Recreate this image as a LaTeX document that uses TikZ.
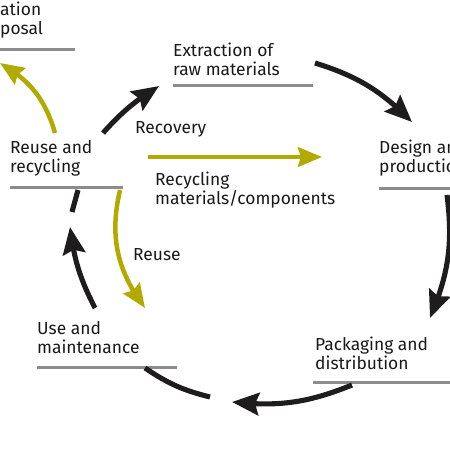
\documentclass[tikz,border=0pt]{standalone}
\usepackage{fontspec}
\setmainfont{Fira Sans}
\usepackage{tikz}
\usetikzlibrary{arrows.meta}
\usetikzlibrary{positioning}
\usetikzlibrary{bending}
\definecolor{mossy}{RGB}{178,170,0}
\definecolor{inkblack}{RGB}{30,28,28}
\definecolor{rulegray}{RGB}{140,140,140}
\tikzset{>={Stealth[length=9mm, width=7.5mm, inset=1.3mm]}}
\tikzset{
    stage/.style={anchor=south west, align=left, inner sep=0pt, text depth=0pt, text=black!90,
        font=\fontsize{16.5}{18.5}\selectfont},
    rule/.style={draw=rulegray, line width=1mm},
    loopline/.style={->, draw=inkblack, line width=1.7mm},
    looptail/.style={draw=inkblack, line width=1.7mm},
    backline/.style={-{Stealth[length=8mm, width=6.5mm, inset=1mm]}, draw=mossy, line width=1.5mm},
}

\begin{document}
\begin{tikzpicture}[x=0.3333mm, y=-0.3333mm] % life cycle of a product
	\path[use as bounding box, clip] (0,0) rectangle (450,450);
	\node[stage] (disp) at (0,35) {ation\\posal};
	\node[stage] (ext) at (173,76) {Extraction of\\raw materials};
	\node[stage] (reu) at (10,173) {Reuse and\\recycling};
	\node[stage] (des) at (379,173) {Design and\\production};
	\node[stage] (use) at (37,354) {Use and\\maintenance};
	\node[stage] (pack) at (315,370) {Packaging and\\distribution};
	\draw[rule] (disp.south west) ++(0,14) -- ++(75,0);
	\draw[rule] (ext.south west) ++(0,9) -- ++(140,0);
	\draw[rule] (reu.south west) ++(0,14) -- ++(113,0);
	\draw[rule] (des.south west) ++(0,15) -- ++(80,0);
	\draw[rule] (use.south west) ++(0,13) -- ++(140,0);
	\draw[rule] (pack.south west) ++(-2,12) -- ++(140,0);
	\node[stage, anchor=base west] (recov) at (135,133) {Recovery};
	\node[stage] (mat) at (155,205) {Recycling\\materials/components};
	\node[stage, anchor=base west] (reuse) at (133,260) {Reuse};
	% main loop
	\coordinate (r1) at (103,133); \coordinate (e0) at (159,86);
	\coordinate (e1) at (315,63);  \coordinate (d0) at (412,122);
	\coordinate (d1) at (447,195); \coordinate (p0) at (430,318);
	\coordinate (p1) at (352,385); \coordinate (u0) at (232,402);
	\coordinate (u1) at (210,397); \coordinate (u2) at (145,368);
	\coordinate (u3) at (95,308);  \coordinate (r0) at (70,227);
	\coordinate (r2) at (72,212);  \coordinate (r3) at (78,190);
	\draw[loopline] (r1) to[bend left=8] (e0);
	\draw[loopline] (e1) to[bend left=14] (d0);
	\draw[loopline] (d1) to[bend left=15] (p0);
	\draw[loopline] (p1) to[bend left=14] (u0);
	\draw[looptail] (u1) to[bend left=10] (u2);
	\draw[loopline] (u3) to[bend left=10] (r0);
	\draw[looptail] (r2) -- (r3);
	% recycling branch
	\coordinate (m0) at (148,157); \coordinate (m1) at (322,157);
	\coordinate (g0) at (55,133);  \coordinate (g1) at (0,63);
	\coordinate (h0) at (120,190); \coordinate (h1) at (145,308);
	\draw[backline] (m0) -- (m1);
	\draw[backline] (g0) to[bend right=22] (g1);
	\draw[backline] (h0) to[bend right=25] (h1);
\end{tikzpicture}
\end{document}
